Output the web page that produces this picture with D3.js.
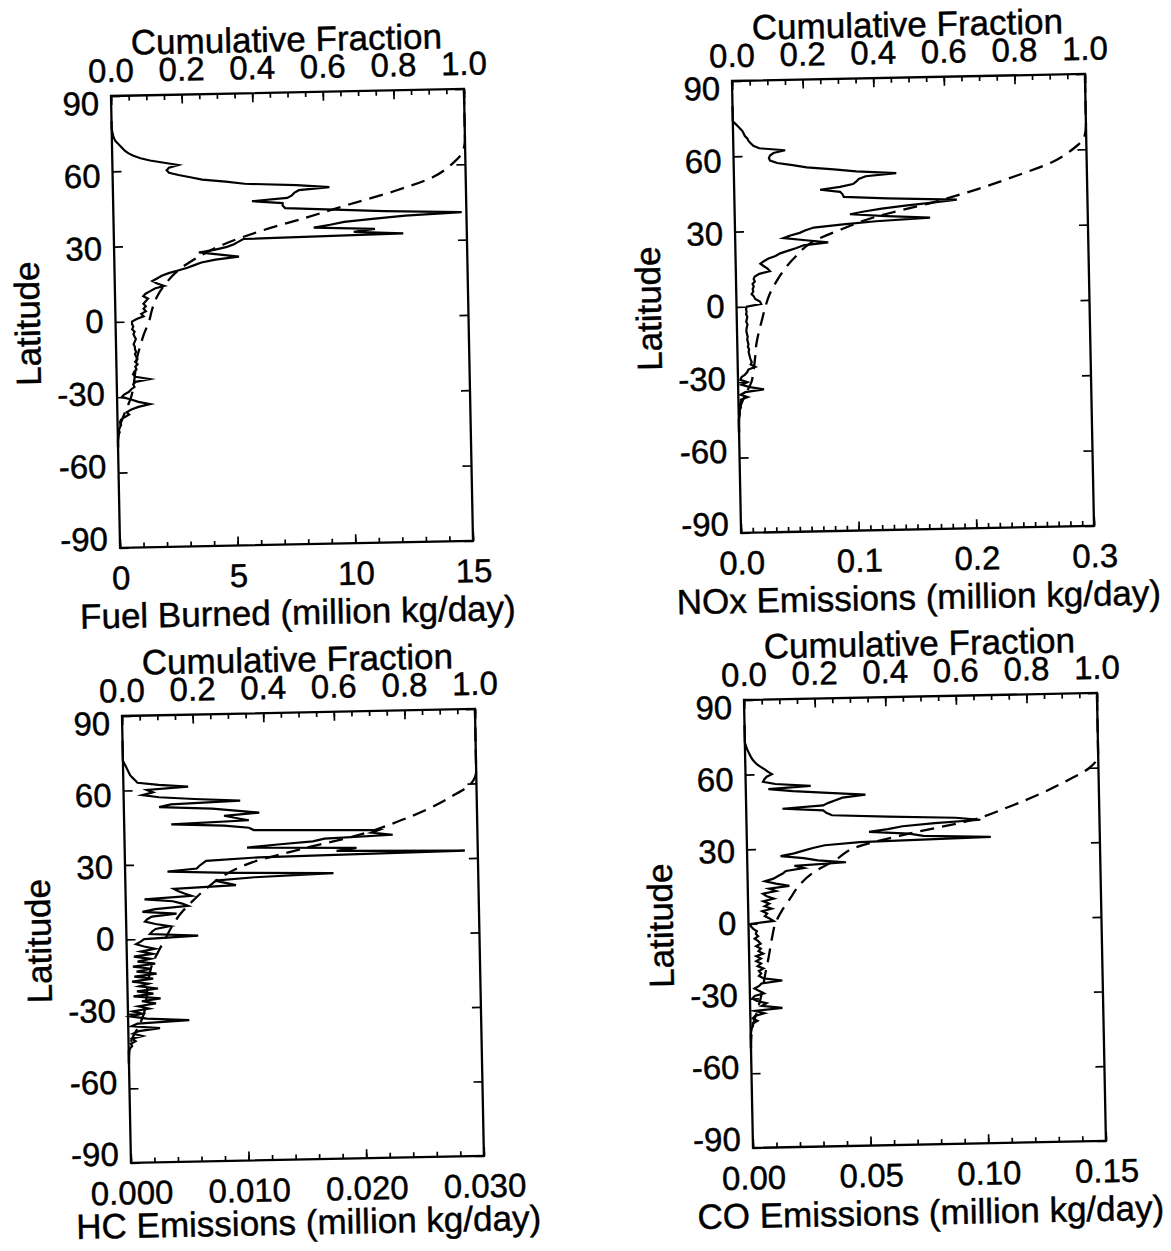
<!DOCTYPE html>
<html><head><meta charset="utf-8">
<script src="https://cdn.jsdelivr.net/npm/d3@7"></script>
<style>
body{margin:0;background:#fff}
svg text{font-family:"Liberation Sans",Arial,Helvetica,sans-serif;fill:#000;stroke:#000;stroke-width:0.45px}
</style>
</head><body>
<svg id="chart" width="1171" height="1251"></svg>
<script>
// ---------- DATA ----------
const latitudes = [
 80,79,78,77,76,75,74,73,72,71,
 70,69,68,67,66,65,64,63,62,61,
 60,59,58,57,56,55,54,53,52,51,
 50,49,48,47,46,45,44,43,42,41,
 40,39,38,37,36,35,34,33,32,31,
 30,29,28,27,26,25,24,23,22,21,
 20,19,18,17,16,15,14,13,12,11,
 10,9,8,7,6,5,4,3,2,1,
 0,-1,-2,-3,-4,-5,-6,-7,-8,-9,
 -10,-11,-12,-13,-14,-15,-16,-17,-18,-19,
 -20,-21,-22,-23,-24,-25,-26,-27,-28,-29,
 -30,-31,-32,-33,-34,-35,-36,-37,-38,-39,
 -40,-41,-42,-43,-44,-45,-46,-47,-48,-49,
 -50];

const fuelBurned = [
 0,0,0,0,0.02,0.04,0.06,0.1,0.15,0.25,
 0.35,0.45,0.55,0.7,0.9,1.2,1.6,2.2,2.8,2.4,
 2.3,2.4,2.8,3.3,3.8,4.8,5.6,7.8,9.2,7.9,
 7.7,7.6,7.4,5.9,7.2,7.2,7.3,9.4,11.5,14.8,
 12.4,11.0,9.8,9.2,8.5,11.1,10.2,12.3,5.5,5.3,
 5.1,4.8,4.3,3.6,4.5,5.3,4.3,3.7,3.4,3.1,
 2.7,2.3,2.0,1.8,1.6,1.8,2.1,1.7,1.5,1.3,
 1.2,1.4,1.3,1.2,1.3,1.2,1.3,1.1,1.2,0.9,
 0.7,0.7,0.75,0.7,0.8,0.75,0.8,0.85,0.8,0.75,
 0.8,0.8,0.85,0.8,0.85,0.9,0.8,0.9,0.8,0.85,
 0.75,0.7,0.8,1.4,0.8,0.7,0.75,0.6,0.5,0.3,
 0.2,0.6,0.9,1.4,0.9,0.6,0.4,0.5,0.3,0.15,
 0.1,0.15,0.1,0.05,0.08,0.03,0.02,0,0,0,
 0];

const noxEmissions = [
 0,0,0,0,0,0,0,0.002,0.004,0.006,
 0.008,0.009,0.01,0.012,0.013,0.015,0.017,0.022,0.044,0.034,
 0.031,0.03,0.031,0.037,0.05,0.062,0.085,0.104,0.138,0.112,
 0.106,0.104,0.101,0.09,0.073,0.09,0.092,0.093,0.13,0.189,
 0.168,0.145,0.125,0.11,0.098,0.129,0.166,0.12,0.092,0.067,
 0.06,0.055,0.047,0.041,0.06,0.079,0.058,0.052,0.045,0.038,
 0.034,0.028,0.024,0.021,0.024,0.027,0.029,0.02,0.016,0.015,
 0.016,0.014,0.015,0.014,0.0145,0.013,0.015,0.016,0.02,0.021,
 0.0087,0.008,0.0085,0.008,0.009,0.0085,0.008,0.009,0.0085,0.008,
 0.008,0.0085,0.009,0.0085,0.009,0.0095,0.009,0.01,0.0095,0.01,
 0.0105,0.011,0.012,0.011,0.015,0.009,0.008,0.006,0.003,0.002,
 0.008,0.003,0.01,0.022,0.006,0.002,0.008,0.002,0.002,0.001,
 0.002,0.001,0.001,0.001,0.0005,0,0,0,0,0,
 0];

const hcEmissions = [
 0,0,0,0,0,0,0,0,0,0.0001,
 0.0002,0.0003,0.0004,0.0005,0.0006,0.0008,0.001,0.0012,0.003,0.0055,
 0.002,0.0025,0.0016,0.003,0.006,0.0099,0.004,0.003,0.0075,0.0095,
 0.0115,0.0085,0.0095,0.0106,0.004,0.0085,0.0106,0.011,0.0216,0.021,
 0.0228,0.017,0.016,0.013,0.0104,0.0197,0.018,0.0289,0.0114,0.0069,
 0.0066,0.0063,0.0061,0.0036,0.009,0.0177,0.011,0.0076,0.0085,0.0094,
 0.0041,0.0045,0.005,0.0056,0.0016,0.004,0.0048,0.0053,0.0025,0.0014,
 0.0043,0.0022,0.0018,0.0016,0.0025,0.0037,0.0025,0.0022,0.002,0.0061,
 0.0015,0.0012,0.0008,0.0015,0.0024,0.0012,0.0022,0.0006,0.002,0.0009,
 0.0024,0.0005,0.0021,0.0008,0.0025,0.0006,0.0022,0.0004,0.0018,0.001,
 0.0026,0.0008,0.0022,0.0005,0.0028,0.0012,0.0024,0.0009,0.0018,0.0004,
 0.0012,0.0002,0.0016,0.0052,0.0008,0.0003,0.0027,0.0009,0.0004,0.0012,
 0.0003,0.0006,0.0002,0.0003,0.0001,0,0,0,0,0,
 0];

const coEmissions = [
 0,0,0,0,0,0,0,0,0.0003,0.0006,
 0.001,0.0015,0.002,0.0025,0.0031,0.004,0.005,0.0065,0.0082,0.0095,
 0.0112,0.009,0.008,0.0074,0.0126,0.0276,0.0096,0.02,0.035,0.0508,
 0.041,0.038,0.035,0.0327,0.0154,0.0327,0.034,0.0364,0.06,0.0889,
 0.0994,0.08,0.0663,0.06,0.052,0.069,0.075,0.1037,0.048,0.0331,
 0.028,0.024,0.02,0.0142,0.024,0.03,0.042,0.02,0.024,0.0164,
 0.015,0.013,0.011,0.0074,0.012,0.0177,0.009,0.012,0.0064,0.008,
 0.011,0.0065,0.009,0.007,0.01,0.006,0.008,0.007,0.009,0.0107,
 0.001,0.001,0.002,0.0035,0.003,0.004,0.0025,0.004,0.005,0.003,
 0.005,0.004,0.006,0.003,0.005,0.003,0.005,0.0035,0.006,0.004,
 0.005,0.004,0.006,0.0139,0.005,0.004,0.002,0.004,0.006,0.002,
 0.001,0.003,0.007,0.005,0.0137,0.002,0.006,0.002,0.001,0.003,
 0.001,0.001,0.0005,0.0003,0.0001,0,0,0,0,0,
 0];

const cumLatitudes = [-50,-45,-40,-35,-30,-25,-20,-15,-10,-5,0,5,10,15,20,25,30,35,40,45,50,55,60,65,70,75,80,85,90];
const fuelCumulative = [0,0.002,0.01,0.025,0.04,0.048,0.053,0.058,0.068,0.08,0.095,0.105,0.12,0.145,0.18,0.235,0.31,0.415,0.545,0.67,0.8,0.905,0.96,0.993,1,1,1,1,1];
const noxCumulative  = [0,0.001,0.005,0.02,0.038,0.045,0.05,0.054,0.062,0.072,0.082,0.095,0.115,0.14,0.173,0.215,0.3,0.405,0.56,0.69,0.8,0.9,0.96,0.995,1,1,1,1,1];
const hcCumulative   = [0,0.002,0.01,0.03,0.045,0.052,0.056,0.062,0.072,0.09,0.11,0.13,0.155,0.19,0.23,0.28,0.36,0.5,0.66,0.77,0.86,0.93,0.985,1,1,1,1,1,1];
const coCumulative   = [0,0.002,0.008,0.02,0.03,0.038,0.045,0.053,0.06,0.067,0.076,0.095,0.12,0.145,0.185,0.25,0.31,0.46,0.64,0.745,0.835,0.91,0.975,1,1,1,1,1,1];

const latTicks = [-90,-60,-30,0,30,60,90];
const latTickLabels = ["-90","-60","-30","0","30","60","90"];
const fracTicks = [0,0.2,0.4,0.6,0.8,1.0];
const fracTickLabels = ["0.0","0.2","0.4","0.6","0.8","1.0"];
const fuelTicks = [0,5,10,15];       const fuelTickLabels = ["0","5","10","15"];
const noxTicks = [0,0.1,0.2,0.3];    const noxTickLabels = ["0.0","0.1","0.2","0.3"];
const hcTicks = [0,0.01,0.02,0.03];  const hcTickLabels = ["0.000","0.010","0.020","0.030"];
const coTicks = [0,0.05,0.10,0.15];  const coTickLabels = ["0.00","0.05","0.10","0.15"];

// ---------- DRAW ----------
const svg = d3.select("#chart");
svg.append("rect").attr("width",1171).attr("height",1251).attr("fill","#fff").attr("stroke","none");

const W = 353, ROT = -1.15;
const FONT = '"Liberation Sans", Arial, Helvetica, sans-serif';
const TICK_FS = 33, TITLE_FS = 35;

const panels = [
 {x0:111, y0:96,  H:452, tdy:80, values:fuelBurned,   cum:fuelCumulative, max:15,   ticks:fuelTicks, labels:fuelTickLabels, minor:1,     title:"Fuel Burned (million kg/day)"},
 {x0:732, y0:81,  H:452, tdy:80, values:noxEmissions, cum:noxCumulative,  max:0.3,  ticks:noxTicks,  labels:noxTickLabels,  minor:0.01,  title:"NOx Emissions (million kg/day)"},
 {x0:122, y0:716, H:447, tdy:75, values:hcEmissions,  cum:hcCumulative,   max:0.03, ticks:hcTicks,   labels:hcTickLabels,   minor:0.002, title:"HC Emissions (million kg/day)"},
 {x0:744, y0:700, H:448, tdy:80, values:coEmissions,  cum:coCumulative,   max:0.15, ticks:coTicks,   labels:coTickLabels,   minor:0.01,  title:"CO Emissions (million kg/day)"}
];

function styleAxis(sel){
  sel.attr("font-size",TICK_FS).attr("font-family",FONT);
  sel.select(".domain").remove();
  sel.selectAll(".tick line").attr("stroke","#000").attr("stroke-width",1.7);
  sel.selectAll(".tick text").attr("fill","#000");
}

panels.forEach(p => {
  const H = p.H;
  const g = svg.append("g").attr("transform",`translate(${p.x0},${p.y0}) rotate(${ROT})`);
  const x = d3.scaleLinear().domain([0,p.max]).range([0,W]);
  const f = d3.scaleLinear().domain([0,1]).range([0,W]);
  const y = d3.scaleLinear().domain([-90,90]).range([H,0]);

  const minorVals = d3.range(0, p.max + p.minor/2, p.minor);
  g.append("g").attr("transform",`translate(0,${H})`)
   .call(d3.axisBottom(x).tickValues(minorVals).tickSizeInner(-5).tickSizeOuter(0).tickFormat(""))
   .call(styleAxis);
  g.append("g").attr("transform",`translate(0,${H})`)
   .call(d3.axisBottom(x).tickValues(p.ticks).tickSizeInner(-9).tickSizeOuter(0).tickPadding(18)
          .tickFormat((d,i)=>p.labels[i]))
   .call(styleAxis);
  g.append("g")
   .call(d3.axisTop(f).tickValues(d3.range(0,1.025,0.05)).tickSizeInner(-5).tickSizeOuter(0).tickFormat(""))
   .call(styleAxis);
  g.append("g")
   .call(d3.axisTop(f).tickValues(fracTicks).tickSizeInner(-9).tickSizeOuter(0).tickPadding(14)
          .tickFormat((d,i)=>fracTickLabels[i]))
   .call(styleAxis);
  const left = g.append("g")
   .call(d3.axisLeft(y).tickValues(latTicks).tickSizeInner(-9).tickSizeOuter(0).tickPadding(12)
          .tickFormat((d,i)=>latTickLabels[i]))
   .call(styleAxis);
  left.selectAll(".tick text").attr("y", d => 7.5 - 0.036*y(d));
  g.append("g").attr("transform",`translate(${W},0)`)
   .call(d3.axisRight(y).tickValues(latTicks).tickSizeInner(-9).tickSizeOuter(0).tickFormat(""))
   .call(styleAxis);

  g.append("rect").attr("width",W).attr("height",H)
   .attr("fill","none").attr("stroke","#000").attr("stroke-width",2.3);

  const cumData = cumLatitudes.map((lat,i)=>({lat, v:p.cum[i]}));
  g.append("path").datum(cumData)
   .attr("d", d3.line().x(d=>f(d.v)).y(d=>y(d.lat)).curve(d3.curveMonotoneY))
   .attr("fill","none").attr("stroke","#000").attr("stroke-width",2.3)
   .attr("stroke-dasharray","14,8");

  const data = latitudes.map((lat,i)=>({lat, v:p.values[i]}));
  g.append("path").datum(data)
   .attr("d", d3.line().x(d=>x(d.v)).y(d=>y(d.lat)))
   .attr("fill","none").attr("stroke","#000").attr("stroke-width",2.2)
   .attr("stroke-linejoin","miter").attr("stroke-miterlimit",6);

  g.append("text").attr("x",W/2).attr("y",-41).attr("text-anchor","middle")
   .attr("font-size",TITLE_FS).attr("font-family",FONT).text("Cumulative Fraction");
  g.append("text").attr("x",W/2).attr("y",H+p.tdy).attr("text-anchor","middle")
   .attr("font-size",TITLE_FS).attr("font-family",FONT).text(p.title);
  g.append("text").attr("transform",`translate(-88,${H/2}) rotate(-90)`)
   .attr("text-anchor","middle").attr("dy","0.35em")
   .attr("font-size",TITLE_FS).attr("font-family",FONT).text("Latitude");
});
</script>
</body></html>
